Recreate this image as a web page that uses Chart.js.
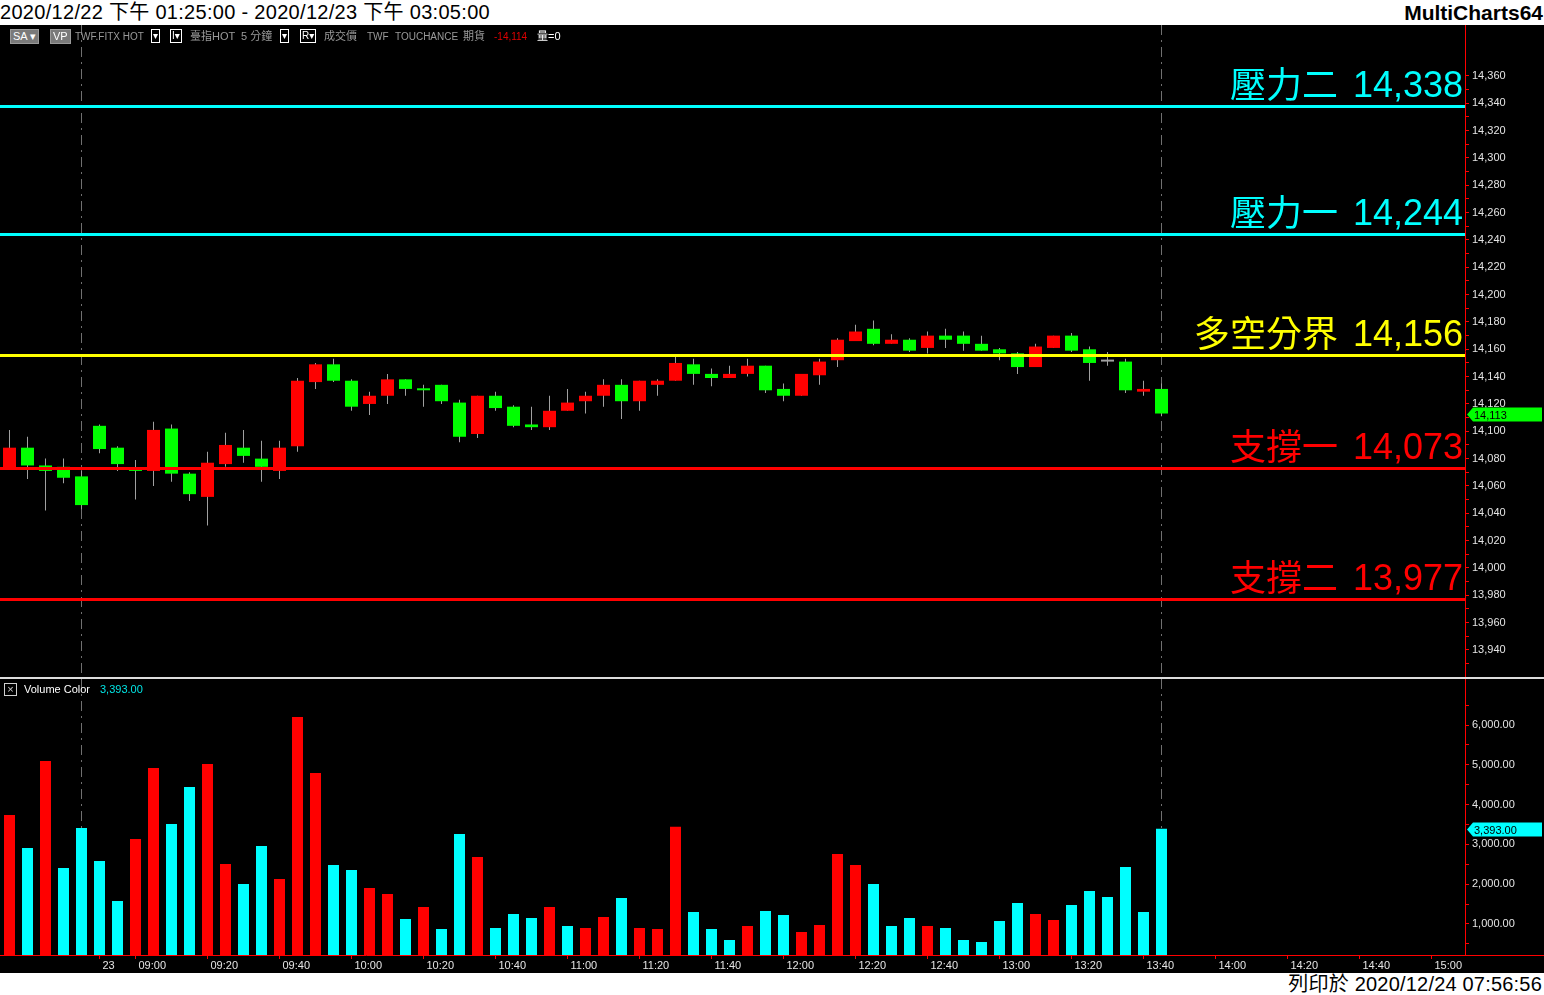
<!DOCTYPE html>
<html>
<head>
<meta charset="utf-8">
<script src="https://cdn.jsdelivr.net/npm/chart.js@4.4.0/dist/chart.umd.min.js"></script>
<style>
  body { margin: 0; width: 1544px; height: 995px; background: #000; position: relative; overflow: hidden;
         font-family: "Liberation Sans", "Noto Sans CJK TC", "DejaVu Sans", sans-serif; }
  #head { position: absolute; left: 0; top: 0; width: 1544px; height: 25px; background: #fff; }
  #head .t { position: absolute; left: 0; top: 1px; font-size: 20px; line-height: 23px; letter-spacing: 0.3px; color: #000; white-space: nowrap; }
  #head .m { position: absolute; right: 1px; top: 1px; font-size: 21px; line-height: 23px; font-weight: bold; color: #000; }
  #foot { position: absolute; left: 0; top: 973px; width: 1544px; height: 22px; background: #fff; }
  #foot span { position: absolute; right: 2px; top: 0; font-size: 20px; line-height: 22px; letter-spacing: 0.2px; color: #000; white-space: nowrap; }
  .info { position: absolute; top: 30px; font-size: 10px; line-height: 13px; color: #9a9a9a; white-space: nowrap; }
  .cjk { font-size: 11px; }
  .gbox { background: #7a7a7a; color: #fff; padding: 0 2px; border: 1px solid #9a9a9a; top: 29px; font-size: 11px; }
  .wbox { border: 1px solid #fff; color: #fff; padding: 0 1px; top: 29px; line-height: 12px; }
  #sep { position: absolute; left: 0; top: 677px; width: 1544px; height: 2px; background: #dcdcdc; }
  .leg { position: absolute; top: 683px; font-size: 11px; line-height: 13px; white-space: nowrap; }
  #xbox { position: absolute; left: 4px; top: 683px; width: 11px; height: 11px; border: 1px solid #d0d0d0;
          color: #d0d0d0; font-size: 11px; line-height: 11px; text-align: center; }
  canvas { position: absolute; left: 0; }
</style>
</head>
<body>
<div id="head"><span class="t">2020/12/22 下午 01:25:00 - 2020/12/23 下午 03:05:00</span><span class="m">MultiCharts64</span></div>

<canvas id="price" width="1544" height="652" style="top:25px"></canvas>
<canvas id="volume" width="1544" height="293" style="top:679px"></canvas>

<span class="info gbox" style="left:10px">SA ▾</span>
<span class="info gbox" style="left:50px">VP</span>
<span class="info" style="left:75px">TWF.FITX HOT</span>
<span class="info wbox" style="left:151px">▾</span>
<span class="info wbox" style="left:170px">I▾</span>
<span class="info cjk" style="left:190px">臺指HOT</span>
<span class="info cjk" style="left:241px">5 分鐘</span>
<span class="info wbox" style="left:280px">▾</span>
<span class="info wbox" style="left:300px">R▾</span>
<span class="info cjk" style="left:324px">成交價</span>
<span class="info" style="left:367px">TWF</span>
<span class="info" style="left:395px">TOUCHANCE</span>
<span class="info cjk" style="left:463px">期貨</span>
<span class="info" style="left:494px;color:#e00000">-14,114</span>
<span class="info cjk" style="left:537px;color:#fff">量=0</span>

<div id="sep"></div>
<div id="xbox">×</div>
<span class="leg" style="left:24px;color:#fff">Volume Color</span>
<span class="leg" style="left:100px;color:#00e5e5">3,393.00</span>

<div id="foot"><span>列印於 2020/12/24 07:56:56</span></div>

<script>
  // 5-minute bars: 12/22 close of day session, 12/23 day session, then empty space to 15:05
  const barTimes = [
    "13:25", "13:30", "13:35", "13:40", "13:45",
    "08:50", "08:55", "09:00", "09:05", "09:10", "09:15", "09:20", "09:25", "09:30", "09:35",
    "09:40", "09:45", "09:50", "09:55", "10:00", "10:05", "10:10", "10:15", "10:20", "10:25",
    "10:30", "10:35", "10:40", "10:45", "10:50", "10:55", "11:00", "11:05", "11:10", "11:15",
    "11:20", "11:25", "11:30", "11:35", "11:40", "11:45", "11:50", "11:55", "12:00", "12:05",
    "12:10", "12:15", "12:20", "12:25", "12:30", "12:35", "12:40", "12:45", "12:50", "12:55",
    "13:00", "13:05", "13:10", "13:15", "13:20", "13:25", "13:30", "13:35", "13:40", "13:45",
    "13:50", "13:55", "14:00", "14:05", "14:10", "14:15", "14:20", "14:25", "14:30", "14:35",
    "14:40", "14:45", "14:50", "14:55", "15:00", "15:05"
  ];

  const openPrices = [
    14073, 14088, 14075, 14074, 14067, 14104, 14088, 14073, 14071, 14102,
    14069, 14052, 14076, 14088, 14080, 14071, 14089, 14136, 14149, 14137,
    14120, 14126, 14138, 14131, 14134, 14121, 14098, 14126, 14118, 14105,
    14103, 14115, 14122, 14126, 14134, 14122, 14134, 14137, 14149, 14142,
    14139, 14142, 14148, 14131, 14126, 14141, 14152, 14166, 14175, 14164,
    14167, 14161, 14170, 14170, 14164, 14160, 14157, 14147, 14161, 14170,
    14160, 14151, 14151, 14129, 14131
  ];
  const highPrices = [
    14101, 14096, 14080, 14080, 14071, 14105, 14089, 14079, 14107, 14105,
    14070, 14085, 14099, 14101, 14093, 14093, 14139, 14150, 14153, 14138,
    14129, 14142, 14138, 14134, 14134, 14123, 14126, 14129, 14119, 14118,
    14126, 14131, 14129, 14138, 14138, 14137, 14138, 14156, 14153, 14146,
    14148, 14153, 14148, 14135, 14142, 14153, 14168, 14178, 14181, 14171,
    14168, 14173, 14175, 14173, 14170, 14161, 14158, 14164, 14170, 14172,
    14162, 14158, 14153, 14137, 14135
  ];
  const lowPrices = [
    14072, 14065, 14042, 14062, 14043, 14084, 14071, 14050, 14060, 14063,
    14049, 14031, 14074, 14077, 14063, 14065, 14085, 14131, 14136, 14115,
    14112, 14120, 14126, 14118, 14120, 14092, 14095, 14115, 14103, 14101,
    14101, 14115, 14113, 14118, 14109, 14115, 14126, 14137, 14134, 14133,
    14139, 14140, 14128, 14122, 14126, 14134, 14147, 14166, 14163, 14164,
    14158, 14157, 14161, 14159, 14159, 14152, 14142, 14147, 14161, 14158,
    14137, 14148, 14128, 14126, 14111
  ];
  const closePrices = [
    14088, 14075, 14071, 14066, 14046, 14087, 14076, 14071, 14101, 14069,
    14054, 14077, 14090, 14082, 14074, 14088, 14137, 14149, 14137, 14118,
    14126, 14138, 14131, 14130, 14122, 14096, 14126, 14117, 14104, 14103,
    14115, 14121, 14126, 14134, 14122, 14137, 14137, 14150, 14142, 14139,
    14142, 14148, 14130, 14126, 14142, 14151, 14167, 14173, 14164, 14167,
    14159, 14170, 14167, 14164, 14159, 14157, 14147, 14162, 14170, 14159,
    14150, 14151, 14130, 14131, 14113
  ];

  const volumes = [
    3739, 2909, 5095, 2407, 3412, 2583, 1578, 3136, 4920, 3513,
    4442, 5020, 2508, 2005, 2960, 2131, 6201, 4794, 2482, 2357,
    1905, 1754, 1126, 1427, 874, 3261, 2683, 900, 1251, 1151,
    1427, 950, 900, 1176, 1653, 900, 874, 3442, 1302, 874,
    598, 950, 1327, 1226, 799, 975, 2759, 2482, 2005, 950,
    1151, 950, 900, 598, 548, 1075, 1528, 1251, 1101, 1477,
    1829, 1678, 2432, 1302, 3393
  ];
  // 1 = up volume (red), 0 = down volume (cyan)
  const volumeUp = [
    1, 0, 1, 0, 0, 0, 0, 1, 1, 0,
    0, 1, 1, 0, 0, 1, 1, 1, 0, 0,
    1, 1, 0, 1, 0, 0, 1, 0, 0, 0,
    1, 0, 1, 1, 0, 1, 1, 1, 0, 0,
    0, 1, 0, 0, 1, 1, 1, 1, 0, 0,
    0, 1, 0, 0, 0, 0, 0, 1, 1, 0,
    0, 0, 0, 0, 0
  ];

  const levelValues = [14338, 14244, 14156, 14073, 13977];
  const levelNames = ["壓力二", "壓力一", "多空分界", "支撐一", "支撐二"];

  const priceTickLabels = [14360, 14340, 14320, 14300, 14280, 14260, 14240, 14220, 14200, 14180, 14160,
    14140, 14120, 14100, 14080, 14060, 14040, 14020, 14000, 13980, 13960, 13940];
  const volumeTickLabels = [6000, 5000, 4000, 3000, 2000, 1000];
  const xTickTimes = ["08:50", "09:00", "09:20", "09:40", "10:00", "10:20", "10:40", "11:00", "11:20", "11:40",
    "12:00", "12:20", "12:40", "13:00", "13:20", "13:40", "14:00", "14:20", "14:40", "15:00"];
  const xTickText = ["23", "09:00", "09:20", "09:40", "10:00", "10:20", "10:40", "11:00", "11:20", "11:40",
    "12:00", "12:20", "12:40", "13:00", "13:20", "13:40", "14:00", "14:20", "14:40", "15:00"];

  const RED = "#ff0000";
  const GREEN = "#00ff00";
  const CYAN = "#00ffff";
  const YELLOW = "#ffff00";
  const WICK = "#a0a0a0";
  const LABEL = "#e4e4e4";
  const levelColors = [CYAN, CYAN, YELLOW, RED, RED];
  const X_MIN = -0.52778;
  const X_MAX = 80.86111;
  const AXIS_WIDTH = 79;

  Chart.defaults.font.family = '"Liberation Sans", Arial, sans-serif';
  Chart.defaults.font.size = 11;

  const xTickIdx = xTickTimes.map(t => barTimes.lastIndexOf(t));
  const sessionEnds = barTimes
    .map((t, i) => (t === "13:45" && i < closePrices.length) ? i : -1)
    .filter(i => i >= 0);

  function candleColor(i) {
    if (closePrices[i] > openPrices[i]) return RED;
    if (closePrices[i] < openPrices[i]) return GREEN;
    return WICK;
  }

  function fixAxisWidth(axis) {
    axis.width = AXIS_WIDTH;
    axis.paddingTop = 0;
    axis.paddingBottom = 0;
  }

  function drawTag(chart, value, text, color) {
    const ctx = chart.ctx;
    const y = Math.round(chart.scales.y.getPixelForValue(value)) + 0.5;
    const x = chart.chartArea.right + 2;
    const right = chart.width - 2;
    ctx.save();
    ctx.fillStyle = color;
    ctx.beginPath();
    ctx.moveTo(x, y);
    ctx.lineTo(x + 6, y - 7);
    ctx.lineTo(right, y - 7);
    ctx.lineTo(right, y + 7);
    ctx.lineTo(x + 6, y + 7);
    ctx.closePath();
    ctx.fill();
    ctx.fillStyle = "#000";
    ctx.font = '11px "Liberation Sans", Arial, sans-serif';
    ctx.textAlign = "left";
    ctx.textBaseline = "middle";
    ctx.fillText(text, x + 7, y + 1);
    ctx.restore();
  }

  const sessionLines = {
    id: "sessionLines",
    beforeDatasetsDraw(chart) {
      const { ctx, chartArea, scales } = chart;
      ctx.save();
      ctx.strokeStyle = "#707070";
      ctx.lineWidth = 1;
      ctx.setLineDash([10, 5, 2, 5]);
      sessionEnds.forEach(function (i) {
        const px = Math.floor(scales.x.getPixelForValue(i)) + 0.5;
        ctx.beginPath();
        ctx.moveTo(px, chartArea.top);
        ctx.lineTo(px, chartArea.bottom);
        ctx.stroke();
      });
      ctx.restore();
    }
  };

  const levelLines = {
    id: "levelLines",
    afterDatasetsDraw(chart) {
      const { ctx, chartArea, scales } = chart;
      ctx.save();
      levelValues.forEach(function (v, i) {
        const py = Math.round(scales.y.getPixelForValue(v));
        ctx.fillStyle = levelColors[i];
        ctx.fillRect(chartArea.left, py - 1, chartArea.right - chartArea.left, 3);
        ctx.textAlign = "right";
        ctx.textBaseline = "alphabetic";
        const num = v.toLocaleString("en-US");
        ctx.font = '36px "Liberation Sans", Arial, sans-serif';
        const numRight = chartArea.right - 2;
        ctx.fillText(num, numRight, py - 9);
        const numWidth = ctx.measureText(num).width;
        ctx.font = '36px "Noto Sans CJK TC", sans-serif';
        ctx.fillText(levelNames[i], numRight - numWidth - 15, py - 8);
      });
      ctx.restore();
    }
  };

  const lastPriceTag = {
    id: "lastPriceTag",
    afterDraw(chart) {
      const last = closePrices[closePrices.length - 1];
      drawTag(chart, last, last.toLocaleString("en-US"), GREEN);
    }
  };

  const lastVolumeTag = {
    id: "lastVolumeTag",
    afterDraw(chart) {
      const last = volumes[volumes.length - 1];
      drawTag(chart, last, last.toLocaleString("en-US", { minimumFractionDigits: 2 }), CYAN);
      // x axis line runs on under the price scale
      const ctx = chart.ctx;
      ctx.save();
      ctx.fillStyle = RED;
      ctx.fillRect(chart.chartArea.right, Math.round(chart.chartArea.bottom), chart.width - chart.chartArea.right, 1);
      ctx.restore();
    }
  };

  const wickData = highPrices.map((h, i) => ({ x: i, y: [lowPrices[i], h] }));
  const bodyData = openPrices.map((o, i) => ({ x: i, y: [o, closePrices[i]] }));
  const volumeData = volumes.map((v, i) => ({ x: i, y: v }));

  new Chart(document.getElementById("price"), {
    type: "bar",
    data: {
      datasets: [
        {
          label: "wick",
          data: wickData,
          backgroundColor: WICK,
          barThickness: 1,
          grouped: false,
          inflateAmount: 0,
          order: 2
        },
        {
          label: "body",
          data: bodyData,
          backgroundColor: openPrices.map((o, i) => candleColor(i)),
          barThickness: 13,
          minBarLength: 2,
          grouped: false,
          inflateAmount: 0,
          order: 1
        }
      ]
    },
    options: {
      responsive: false,
      animation: false,
      devicePixelRatio: 1,
      layout: { padding: 0 },
      plugins: { legend: { display: false }, tooltip: { enabled: false } },
      scales: {
        x: { type: "linear", min: X_MIN, max: X_MAX, offset: false, display: false },
        y: {
          position: "right",
          min: 13920.2,
          max: 14397.3,
          afterBuildTicks: function (axis) {
            const values = [];
            priceTickLabels.forEach(v => { values.push(v); values.push(v - 10); });
            axis.ticks = values.map(v => ({ value: v }));
          },
          afterFit: fixAxisWidth,
          grid: { drawOnChartArea: false, tickLength: 4, color: RED },
          border: { color: RED },
          ticks: {
            autoSkip: false,
            padding: 3,
            color: LABEL,
            callback: v => priceTickLabels.includes(v) ? v.toLocaleString("en-US") : ""
          }
        }
      }
    },
    plugins: [sessionLines, levelLines, lastPriceTag]
  });

  new Chart(document.getElementById("volume"), {
    type: "bar",
    data: {
      datasets: [
        {
          label: "Volume Color",
          data: volumeData,
          backgroundColor: volumeUp.map(u => u ? RED : CYAN),
          barThickness: 11,
          grouped: false,
          inflateAmount: 0
        }
      ]
    },
    options: {
      responsive: false,
      animation: false,
      devicePixelRatio: 1,
      layout: { padding: 0 },
      plugins: { legend: { display: false }, tooltip: { enabled: false } },
      scales: {
        x: {
          type: "linear",
          min: X_MIN,
          max: X_MAX,
          offset: false,
          afterBuildTicks: function (axis) {
            axis.ticks = xTickIdx.map(v => ({ value: v }));
          },
          afterFit: function (axis) {
            axis.height = 17;
            axis.paddingLeft = 0;
            axis.paddingRight = 0;
          },
          grid: { drawOnChartArea: false, tickLength: 4, color: RED, offset: false },
          border: { color: RED },
          ticks: {
            autoSkip: false,
            maxRotation: 0,
            align: "start",
            labelOffset: 3,
            padding: 0,
            color: LABEL,
            callback: v => xTickText[xTickIdx.indexOf(v)]
          }
        },
        y: {
          position: "right",
          min: 221,
          max: 7156,
          afterBuildTicks: function (axis) {
            const values = [];
            volumeTickLabels.forEach(v => { values.push(v + 500); values.push(v); });
            values.push(500);
            axis.ticks = values.map(v => ({ value: v }));
          },
          afterFit: fixAxisWidth,
          grid: { drawOnChartArea: false, tickLength: 4, color: RED },
          border: { color: RED },
          ticks: {
            autoSkip: false,
            padding: 3,
            color: LABEL,
            callback: v => volumeTickLabels.includes(v) ? v.toLocaleString("en-US", { minimumFractionDigits: 2 }) : ""
          }
        }
      }
    },
    plugins: [sessionLines, lastVolumeTag]
  });
</script>
</body>
</html>
